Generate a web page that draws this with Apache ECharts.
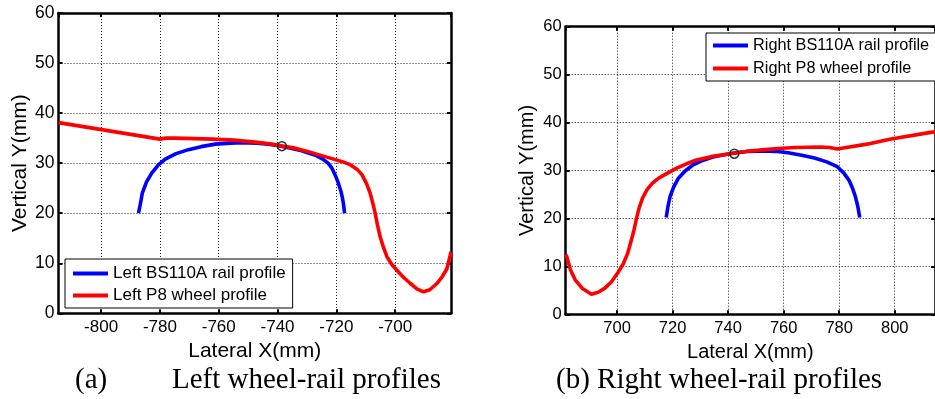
<!DOCTYPE html>
<html>
<head>
<meta charset="utf-8">
<script src="https://cdn.jsdelivr.net/npm/echarts@6/dist/echarts.min.js"></script>
<style>
html,body{margin:0;padding:0;background:#fff;}
#c{width:935px;height:399px;}
</style>
</head>
<body>
<div id="c"></div>
<script>
// ---- data ----
var leftRailX  = [-787.3,-786.6,-786.0,-784.6,-782.8,-780.6,-778.2,-774.5,-770.3,-766.0,-761.2,-756.0,-752.1,-747.0,-743.1,-739.5,-736.3,-732.5,-729.5,-726.8,-724.6,-722.8,-721.5,-720.3,-719.3,-718.5,-717.9,-717.5,-717.2];
var leftRailY  = [20.0,22.0,24.0,26.2,28.0,29.6,30.8,31.9,32.7,33.3,33.8,34.0,34.1,34.0,33.8,33.5,33.1,32.6,32.0,31.5,30.8,30.0,29.0,27.5,26.0,24.5,23.0,21.5,20.0];
var leftWheelX = [-814.5,-780.0,-778.0,-775.0,-768.0,-762.0,-755.0,-747.6,-742.0,-738.5,-734.0,-729.5,-725.0,-721.5,-718.0,-715.3,-713.0,-711.3,-709.8,-708.5,-707.6,-706.8,-706.0,-705.1,-704.0,-702.8,-701.2,-699.4,-697.2,-694.9,-692.6,-690.4,-688.2,-685.9,-684.0,-682.4,-681.3,-681.0];
var leftWheelY = [38.1,34.8,35.0,35.0,34.9,34.8,34.6,34.2,33.8,33.4,33.0,32.3,31.5,30.9,30.3,29.7,28.8,27.7,26.0,24.0,22.0,20.0,17.6,15.3,13.2,11.3,9.8,8.6,7.2,6.0,4.9,4.3,4.7,5.9,7.3,8.9,11.5,12.3];
var leftContact = [-738.5, 33.4];

var rightRailX  = [717.7,718.3,719.1,720.4,722.1,724.5,727.4,730.8,734.5,738.5,742.7,747.5,752.2,757.0,761.6,766.5,771.1,775.5,779.3,781.6,783.5,784.8,785.8,786.7,787.4];
var rightRailY  = [20.2,22.4,24.6,26.6,28.4,29.9,31.2,32.1,32.8,33.3,33.7,34.0,34.1,34.0,33.7,33.2,32.6,31.8,30.8,29.5,28.0,26.3,24.6,22.5,20.2];
var rightWheelX = [681.5,681.9,683.2,684.9,687.5,690.8,693.2,695.5,698.0,700.2,702.2,703.8,705.0,706.1,707.0,707.9,709.2,710.8,712.8,715.0,718.0,721.5,725.0,728.6,735.0,742.2,747.0,752.2,758.0,764.0,773.4,776.5,779.3,790.0,798.2,812.4,814.5];
var rightWheelY = [12.5,12.0,9.3,7.2,5.4,4.2,4.6,5.4,6.8,8.6,10.5,12.7,15.2,17.6,20.0,22.1,24.3,26.0,27.4,28.4,29.4,30.5,31.4,32.2,33.0,33.6,34.0,34.3,34.6,34.8,34.9,34.8,34.5,35.5,36.5,37.9,38.1];
var rightContact = [742.2, 33.5];

var leftXRange  = [-814.5, -681];
var rightXRange = [681.5, 814.5];
var yRange = [0, 60];
var yStep = 10;

var seriesNames = ['Left BS110A rail profile','Left P8 wheel profile','Right BS110A rail profile','Right P8 wheel profile'];
var axisNameX = 'Lateral X(mm)';
var axisNameY = 'Vertical Y(mm)';
var captionA1 = '(a)';
var captionA2 = 'Left wheel-rail profiles';
var captionB  = '(b) Right wheel-rail profiles';

function zip(xs, ys){ return xs.map(function(x,i){ return [x, ys[i]]; }); }

var SANS = '"Liberation Sans", Arial, sans-serif';
var SERIF = '"Liberation Serif", "Times New Roman", serif';

function xAxes(gi, range, fs, nfs){
  var base = {
    type:'value', gridIndex:gi, min:range[0], max:range[1], splitNumber:7,
    axisLine:{show:true, onZero:false, lineStyle:{color:'#000', width:2.5}},
    axisTick:{show:true, inside:true, length:4, lineStyle:{color:'#000', width:2}}
  };
  var bottom = Object.assign({}, base, {
    position:'bottom',
    axisLabel:{show:true, color:'#000', fontFamily:SANS, fontSize:fs, margin:6, showMinLabel:false, showMaxLabel:false},
    splitLine:{show:true, lineStyle:{color:'#222', width:1, type:[1,2]}},
    name:axisNameX, nameLocation:'middle', nameGap:24,
    nameTextStyle:{color:'#000', fontFamily:SANS, fontSize:nfs}
  });
  var top = Object.assign({}, base, {
    position:'top', axisLabel:{show:false}, splitLine:{show:false}
  });
  return [bottom, top];
}
function yAxes(gi, fs, nfs){
  var base = {
    type:'value', gridIndex:gi, min:yRange[0], max:yRange[1], interval:yStep,
    axisLine:{show:true, onZero:false, lineStyle:{color:'#000', width:2.5}},
    axisTick:{show:true, inside:true, length:4, lineStyle:{color:'#000', width:2}}
  };
  var left = Object.assign({}, base, {
    position:'left',
    axisLabel:{show:true, color:'#000', fontFamily:SANS, fontSize:fs, margin:4},
    splitLine:{show:true, lineStyle:{color:'#222', width:1, type:[1,2]}},
    name:axisNameY, nameLocation:'middle', nameGap:28,
    nameTextStyle:{color:'#000', fontFamily:SANS, fontSize:nfs}
  });
  var right = Object.assign({}, base, {
    position:'right', axisLabel:{show:false}, splitLine:{show:false}
  });
  return [left, right];
}

var xa = xAxes(0, leftXRange, 17, 21).concat(xAxes(1, rightXRange, 16.5, 20));
var ya = yAxes(0, 17.5, 21).concat(yAxes(1, 16.5, 20));

function lineSeries(name, xi, yi, data, color){
  return {type:'line', name:name, xAxisIndex:xi, yAxisIndex:yi, data:data,
    showSymbol:false, symbol:'none', smooth:false,
    lineStyle:{color:color, width:3.6, join:'round', cap:'butt'}, itemStyle:{color:color}, silent:true};
}
function marker(xi, yi, pt){
  return {type:'scatter', xAxisIndex:xi, yAxisIndex:yi, data:[pt], symbol:'circle', symbolSize:9,
    itemStyle:{color:'rgba(0,0,0,0)', borderColor:'#000', borderWidth:1.5}, z:5, silent:true};
}

var option = {
  animation:false,
  backgroundColor:'#fff',
  grid:[
    {left:58.5, top:13, width:392.5, height:300.3},
    {left:565.7, top:26.7, width:375.5, height:287.6}
  ],
  xAxis:xa,
  yAxis:ya,
  legend:[
    {left:65, top:259, orient:'vertical', itemWidth:35, itemHeight:4, itemGap:3,
     padding:[5,7,3,8], backgroundColor:'#fff', borderColor:'#000', borderWidth:1, borderRadius:0,
     textStyle:{color:'#000', fontFamily:SANS, fontSize:17, lineHeight:19},
     data:[{name:seriesNames[0], icon:'rect'},{name:seriesNames[1], icon:'rect'}]},
    {left:706, top:33, orient:'vertical', itemWidth:35, itemHeight:4, itemGap:4,
     padding:[3,8,3,7], backgroundColor:'#fff', borderColor:'#000', borderWidth:1, borderRadius:0,
     textStyle:{color:'#000', fontFamily:SANS, fontSize:16.3, lineHeight:19},
     data:[{name:seriesNames[2], icon:'rect'},{name:seriesNames[3], icon:'rect'}]}
  ],
  series:[
    lineSeries(seriesNames[0], 0, 0, zip(leftRailX, leftRailY), '#0000ff'),
    lineSeries(seriesNames[1], 0, 0, zip(leftWheelX, leftWheelY), '#ff0000'),
    marker(0, 0, leftContact),
    lineSeries(seriesNames[2], 2, 2, zip(rightRailX, rightRailY), '#0000ff'),
    lineSeries(seriesNames[3], 2, 2, zip(rightWheelX, rightWheelY), '#ff0000'),
    marker(2, 2, rightContact)
  ],
  graphic:[
    {type:'text', left:75, top:366, style:{text:captionA1, font:'29px '+SERIF, fill:'#000'}},
    {type:'text', left:172, top:366, style:{text:captionA2, font:'29px '+SERIF, fill:'#000'}},
    {type:'text', left:556, top:366, style:{text:captionB, font:'29px '+SERIF, fill:'#000'}}
  ]
};

var chart = echarts.init(document.getElementById('c'), null, {renderer:'canvas'});
chart.setOption(option);
</script>
</body>
</html>
